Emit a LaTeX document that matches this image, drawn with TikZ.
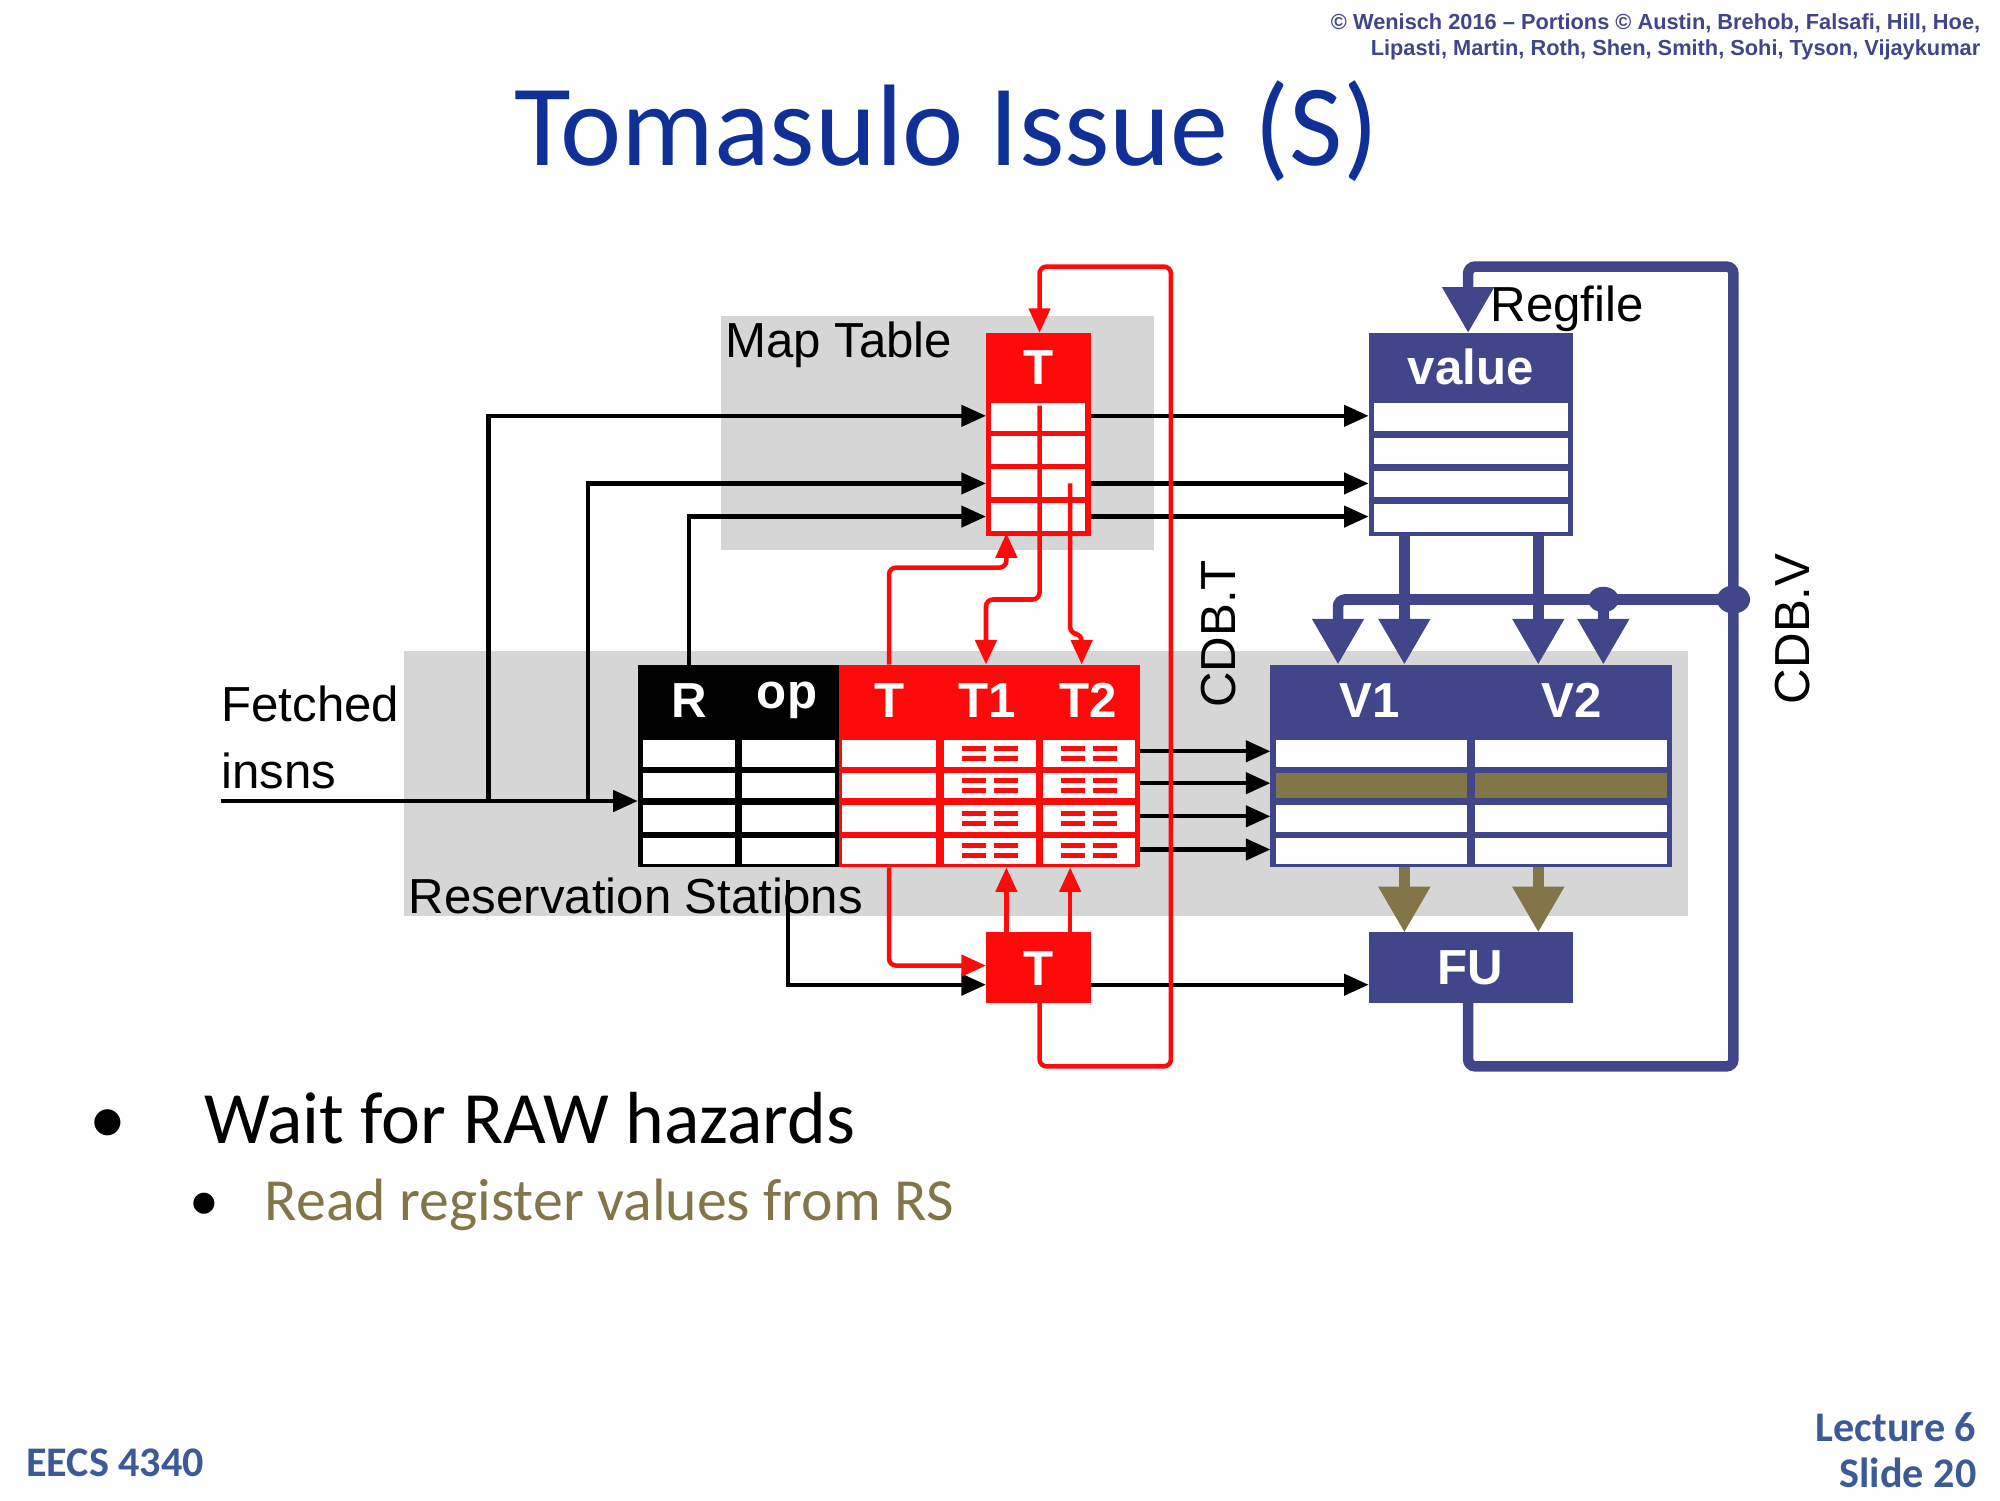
\documentclass[tikz,border=0pt]{standalone}
\usepackage{fontspec}
\setmainfont{Liberation Sans}
\newfontfamily\carl{Carlito}
\usetikzlibrary{arrows.meta}
\definecolor{myred}{RGB}{255,10,10}
\definecolor{myblue}{RGB}{65,70,138}
\definecolor{olive}{RGB}{130,118,73}
\definecolor{ttl}{RGB}{15,48,150}
\definecolor{foot}{RGB}{60,90,150}
\definecolor{gry}{RGB}{214,214,214}
\tikzset{
 blk/.style={line width=1.2pt,-{Triangle[length=7pt,width=6pt]}},
 rd/.style={myred,line width=1.3pt},
 rda/.style={rd,-{Triangle[length=7pt,width=6pt]}},
 bl/.style={myblue,line width=3pt},
 bla/.style={bl,-{Triangle[length=13pt,width=14pt]}},
 lab/.style={font=\fontsize{14}{16}\selectfont,inner sep=0pt},
 hdr/.style={font=\fontsize{14}{16}\selectfont\bfseries,text=white,inner sep=0pt},
}
\begin{document}
\begin{tikzpicture}[x=0.012755cm,y=-0.012755cm]
\useasboundingbox (0,0) rectangle (1568,1176);
% header
\node[anchor=north east,align=right,font=\fontsize{6.2}{7.5}\selectfont\bfseries,text=myblue,inner sep=0pt] (copy) at (1553,10)
 {© Wenisch 2016 -- Portions © Austin, Brehob, Falsafi, Hill, Hoe,\\ Lipasti, Martin, Roth, Shen, Smith, Sohi, Tyson, Vijaykumar};
\node[font=\carl\fontsize{33}{36}\selectfont,text=ttl,inner sep=0pt] (title) at (742,103) {Tomasulo Issue (S)};
% grey backgrounds
\fill[gry] (565,248) rectangle (905,431);
\fill[gry] (317,510) rectangle (1323,718);
\node[lab,anchor=west] (mtl) at (568,270) {Map Table};
\node[lab,anchor=west] (rsl) at (320,702) {Reservation Stations};
% Map table T
\fill[myred] (773,261) rectangle (855,420);
\node[hdr] (mtT) at (814,288) {T};
\foreach \a/\b in {316/338,342/364,368/390,394/416}{\fill[white] (777,\a) rectangle (851,\b);}
\coordinate (mttop) at (815,261);
% RS black part
\fill[black] (500,521) rectangle (658,680);
\foreach \a/\b in {580/601,606/626,631/652,657/677}{
 \fill[white] (504,\a) rectangle (576,\b);
 \fill[white] (582,\a) rectangle (655,\b);}
\node[hdr] (hR) at (540,549) {R};
\node[hdr] (hop) at (617,549) {op};
% RS red part
\fill[myred] (658,521) rectangle (894,680);
\node[hdr] (hT) at (697,549) {T};
\node[hdr] (hT1) at (774,549) {T1};
\node[hdr] (hT2) at (853,549) {T2};
\foreach \a/\b in {580/601,606/626,631/652,657/677}{
 \fill[white] (660,\a) rectangle (734,\b);
 \fill[white] (740,\a) rectangle (812,\b);
 \fill[white] (818,\a) rectangle (890,\b);
 \foreach \cx in {776,854}{
  \fill[myred] (\cx-22,{(\a+\b)/2-6}) rectangle (\cx-3,{(\a+\b)/2-2});
  \fill[myred] (\cx+3,{(\a+\b)/2-6}) rectangle (\cx+22,{(\a+\b)/2-2});
  \fill[myred] (\cx-22,{(\a+\b)/2+2}) rectangle (\cx-3,{(\a+\b)/2+6});
  \fill[myred] (\cx+3,{(\a+\b)/2+2}) rectangle (\cx+22,{(\a+\b)/2+6});}}
% V box
\fill[myblue] (996,521) rectangle (1311,680);
\node[hdr] (hV1) at (1074,549) {V1};
\node[hdr] (hV2) at (1232,549) {V2};
\foreach \a/\b/\c in {580/601/white,606/626/olive,631/652/white,657/677/white}{
 \fill[\c] (1000,\a) rectangle (1150,\b);
 \fill[\c] (1156,\a) rectangle (1307,\b);}
% Regfile
\fill[myblue] (1073,261) rectangle (1233,420);
\node[hdr] (hval) at (1153,288) {value};
\foreach \a/\b in {316/338,343/364,369/390,395/417}{\fill[white] (1077,\a) rectangle (1229,\b);}
\node[lab,anchor=west] (rfl) at (1168,242) {Regfile};
% FU and T box
\fill[myblue] (1073,731) rectangle (1233,786);
\node[hdr] (FU) at (1153,759) {FU};
\fill[myred] (773,731) rectangle (855,786);
\node[hdr] (bT) at (814,759) {T};
% Fetched insns
\node[lab,anchor=west,align=left] (fi) at (173,578) {Fetched\\[3pt]insns};
\coordinate (fin) at (173,628);
\draw[blk] (fin) -- (500,628);
\draw[blk] (383,628) -- (383,326) -- (773,326);
\draw[blk] (461,628) -- (461,379) -- (773,379);
\draw[blk] (540,521) -- (540,405) -- (773,405);
\foreach \y in {326,379,405}{\draw[blk] (855,\y) -- (1073,\y);}
\foreach \y in {589,614,640,666}{\draw[blk] (894,\y) -- (996,\y);}
\draw[blk] (618,690) -- (618,772) -- (773,772);
\draw[blk] (855,772) -- (1073,772);
% red wiring
\draw[rda,rounded corners=2pt] (815,786) -- (815,836) -- (918,836) -- (918,209) -- (815,209) -- (mttop);
\draw[rda,rounded corners=2pt] (697,521) -- (697,445) -- (789,445) -- (789,418);
\draw[rda,rounded corners=2pt] (815,318) -- (815,470) -- (773,470) -- (773,521);
\draw[rda,rounded corners=2pt] (839,379) -- (839,497) -- (848,497) -- (848,521);
\draw[rda,rounded corners=2pt] (697,680) -- (697,757) -- (773,757);
\draw[rda] (789,731) -- (789,680);
\draw[rda] (839,731) -- (839,680);
% blue wiring
\draw[bla] (1101,420) -- (1101,521);
\draw[bla] (1206,420) -- (1206,521);
\draw[bl,rounded corners=2pt] (1049,505) -- (1049,470) -- (1359,470);
\draw[bla] (1049,490) -- (1049,521);
\draw[bla] (1257,470) -- (1257,521);
\fill[myblue] (1257,470) ellipse (12 and 10);
\fill[myblue] (1359,470) ellipse (13 and 11);
\draw[bla,rounded corners=2pt] (1151,786) -- (1151,836) -- (1359,836) -- (1359,209) -- (1151,209) -- (1151,261);
% olive arrows
\draw[olive,line width=3pt,-{Triangle[length=13pt,width=14pt]}] (1101,680) -- (1101,731);
\draw[olive,line width=3pt,-{Triangle[length=13pt,width=14pt]}] (1206,680) -- (1206,731);
% CDB labels
\node[lab,rotate=90] (cdbt) at (955,497) {CDB.T};
\node[lab,rotate=90] (cdbv) at (1405,493) {CDB.V};
% bullets
\node[font=\carl\fontsize{21}{24}\selectfont,anchor=west,inner sep=0pt] (b1) at (70,877) {•\hspace{22pt}Wait for RAW hazards};
\node[font=\carl\fontsize{17}{20}\selectfont,anchor=west,inner sep=0pt,text=olive] (b2) at (148,945) {\textcolor{black}{•}\hspace{13pt}Read register values from RS};
% footer
\node[font=\carl\fontsize{12}{13}\selectfont\bfseries,text=foot,anchor=west,inner sep=0pt] (eecs) at (20,1147) {EECS 4340};
\node[font=\carl\fontsize{12}{13}\selectfont\bfseries,text=foot,anchor=east,align=right,inner sep=0pt] (slide) at (1550,1137) {Lecture 6\\Slide 20};
\end{tikzpicture}
\end{document}
